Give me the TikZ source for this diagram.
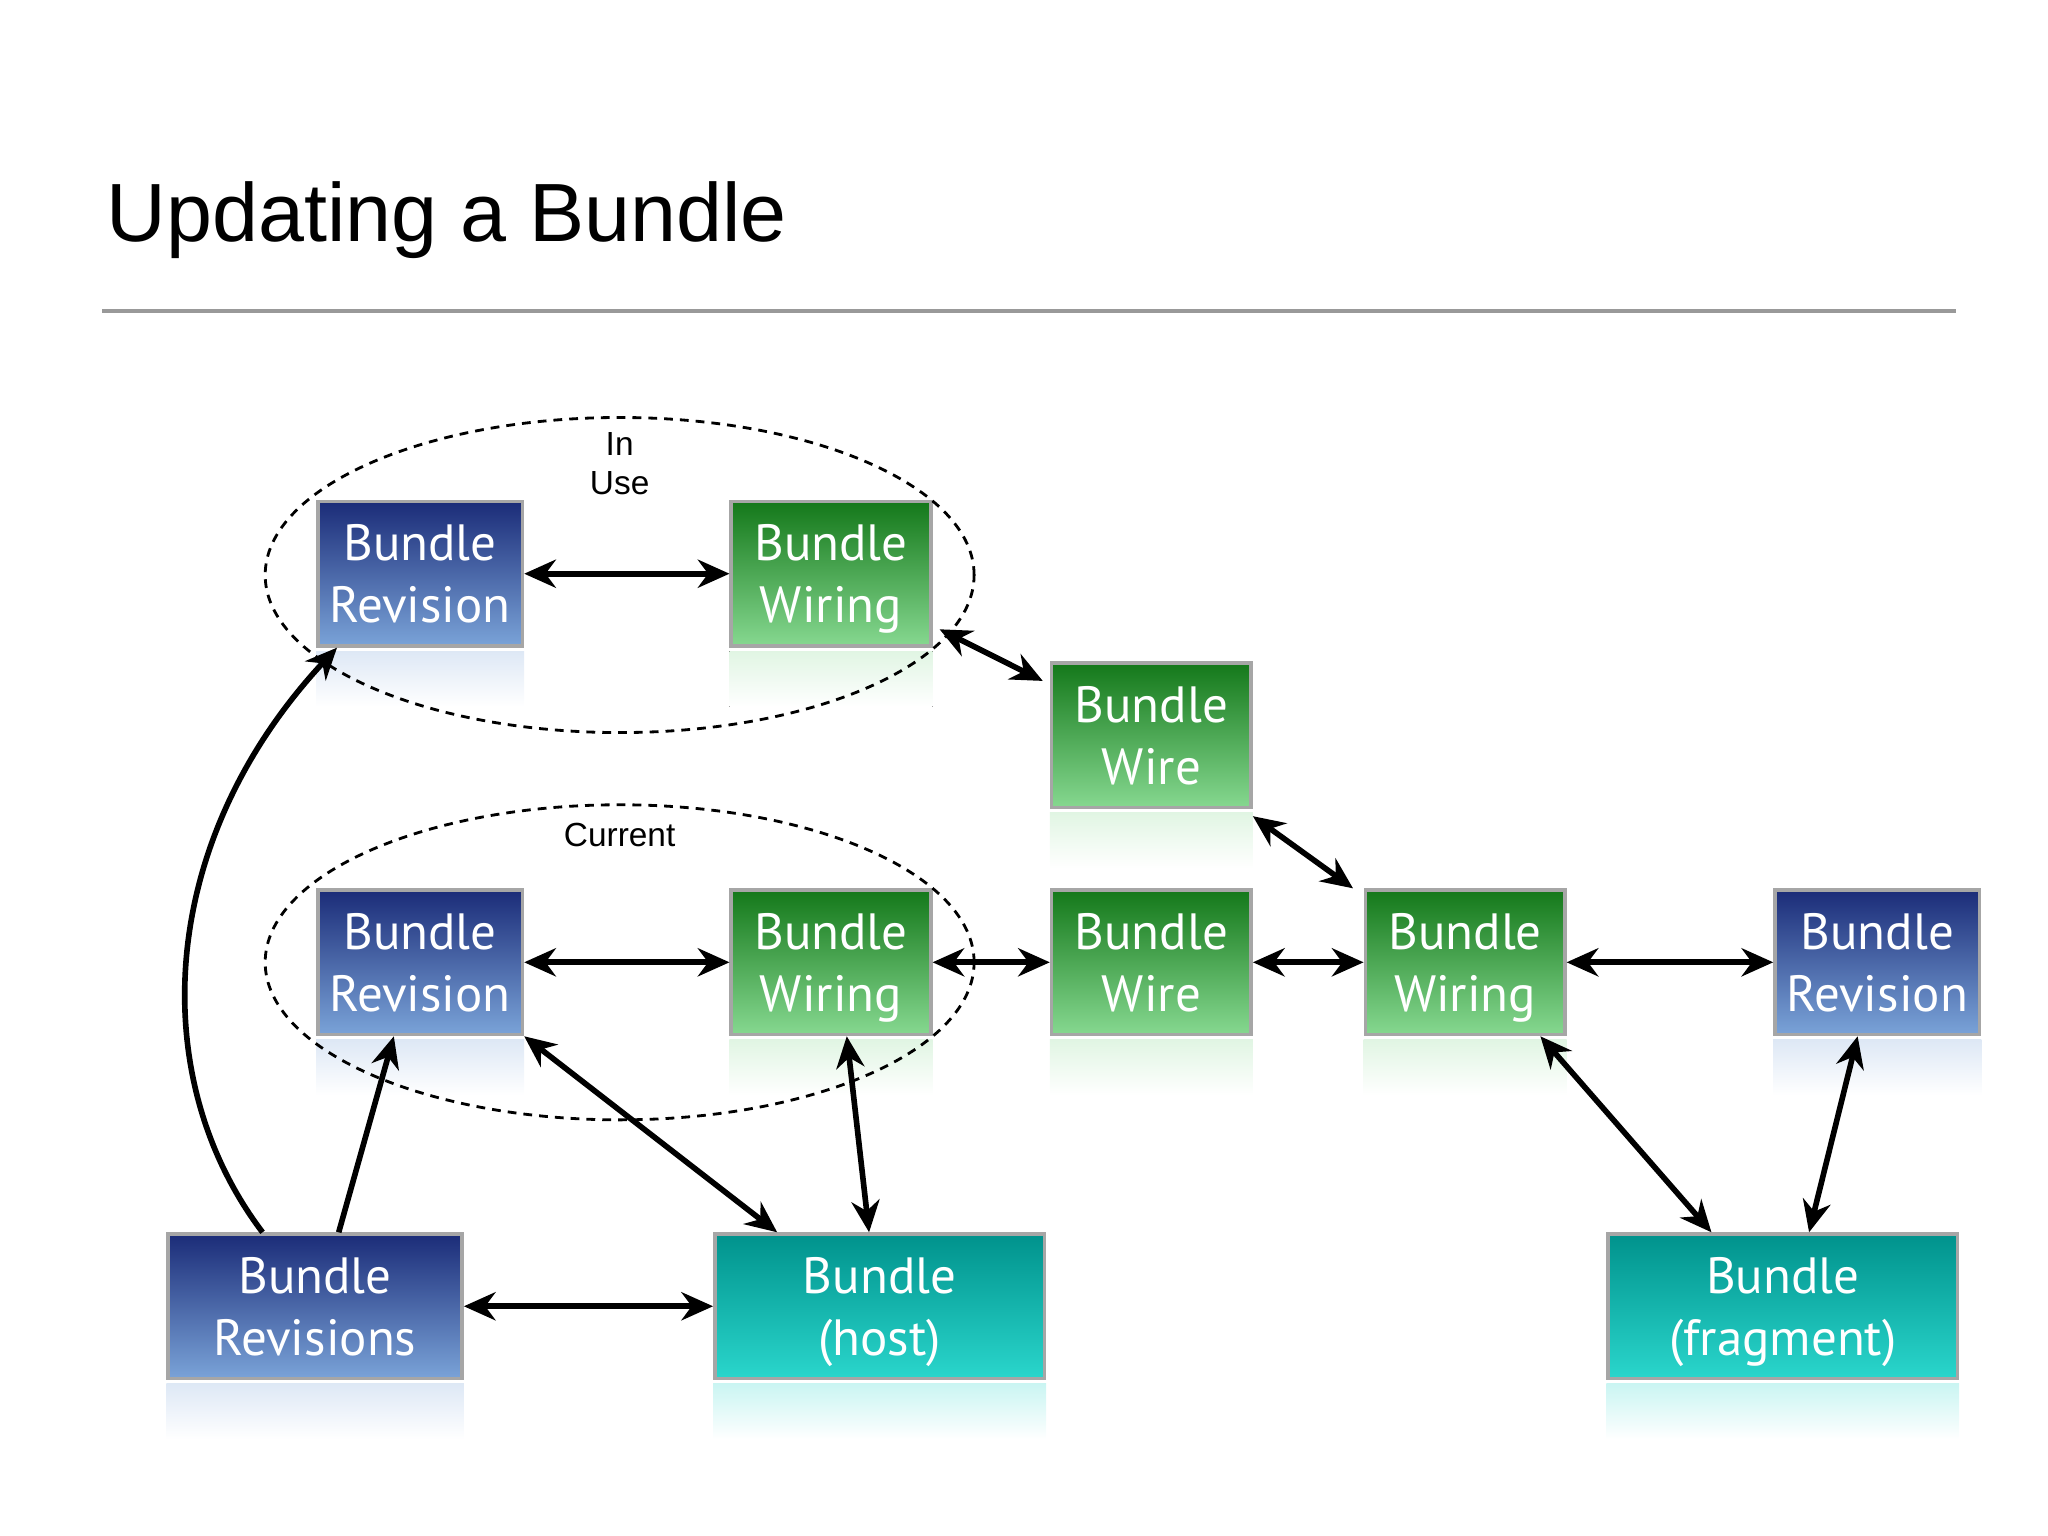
\documentclass[tikz,border=0pt]{standalone}
\usepackage{fontspec}
\setmainfont{PT Sans}
\newfontfamily\hel{Liberation Sans}
\usetikzlibrary{arrows.meta,shapes.geometric}
\definecolor{bTop}{HTML}{1B2C78}\definecolor{bBot}{HTML}{7AA3D8}
\definecolor{gTop}{HTML}{14781A}\definecolor{gBot}{HTML}{86D890}
\definecolor{tTop}{HTML}{00928C}\definecolor{tBot}{HTML}{2AD6CC}
\newlength\unitx \setlength\unitx{0.013128cm}
\tikzset{
 box/.style={draw=gray!70,line width=1pt,minimum width=152\unitx,minimum height=110\unitx,
   text=white,font=\fontsize{14.5}{17.5}\selectfont,align=center,
   text depth=0pt},
 blue/.style={box,top color=bTop,bottom color=bBot},
 green/.style={box,top color=gTop,bottom color=gBot},
 teal/.style={box,top color=tTop,bottom color=tBot},
 conn/.style={line width=1.6pt,{Stealth[length=9pt,width=8pt]}-{Stealth[length=9pt,width=8pt]}},
 conn1/.style={line width=1.6pt,-{Stealth[length=9pt,width=8pt]}},
 ell/.style={dashed,dash pattern=on 2.5pt off 2pt,line width=0.8pt},
 small/.style={font=\hel\fontsize{9.5}{11}\selectfont}
}
\newcommand{\refl}[2]{\fill[top color=#2!25,bottom color=white] ([yshift=-1pt]#1.south west) rectangle ([yshift=-45\unitx]#1.south east);}
\begin{document}
\begin{tikzpicture}[x=0.013128cm,y=-0.013128cm]
\useasboundingbox (0,0) rectangle (1560,1170);
\node[anchor=west,font=\hel\fontsize{23.5}{26}\selectfont] (title) at (72,168) {Updating a Bundle};
\coordinate (l1) at (78,237); \coordinate (l2) at (1490,237);
\draw[gray!80,line width=1.2pt] (l1)--(l2);

\node[blue] (BR1) at (320,437) {Bundle\\Revision};
\node[green] (BW1) at (633,437) {Bundle\\Wiring};
\node[green] (W1) at (877,560) {Bundle\\Wire};
\node[blue] (BR2) at (320,733) {Bundle\\Revision};
\node[green] (BW2) at (633,733) {Bundle\\Wiring};
\node[green] (W2) at (877,733) {Bundle\\Wire};
\node[green] (BW3) at (1116,733) {Bundle\\Wiring};
\node[blue] (BR3) at (1430,733) {Bundle\\Revision};
\node[blue,minimum width=224\unitx] (BRs) at (240,995) {Bundle\\Revisions};
\node[teal,minimum width=251\unitx] (H) at (670,995) {Bundle\\(host)};
\node[teal,minimum width=266\unitx] (F) at (1358,995) {Bundle\\(fragment)};
\refl{BR1}{bBot}\refl{BW1}{gBot}\refl{W1}{gBot}\refl{BR2}{bBot}\refl{BW2}{gBot}
\refl{W2}{gBot}\refl{BW3}{gBot}\refl{BR3}{bBot}\refl{BRs}{bBot}\refl{H}{tBot}\refl{F}{tBot}

\node[ell,draw,ellipse,minimum width=540\unitx,minimum height=240\unitx] (E1) at (472,438) {};
\node[ell,draw,ellipse,minimum width=540\unitx,minimum height=240\unitx] (E2) at (472,733) {};
\node[small,align=center] (iu) at (472,353) {In\\Use};
\node[small] (cu) at (472,636) {Current};

\draw[conn] (BR1.east) -- (BW1.west);
\draw[conn] ([xshift=2pt,yshift=14\unitx]BW1.south east) -- ([xshift=-2pt,yshift=-15\unitx]W1.north west);
\draw[conn] ([yshift=-2pt]W1.south east) -- ([xshift=-3pt]BW3.north west);
\draw[conn] (BR2.east) -- (BW2.west);
\draw[conn] (BW2.east) -- (W2.west);
\draw[conn] (W2.east) -- (BW3.west);
\draw[conn] (BW3.east) -- (BR3.west);
\draw[conn] (BRs.east) -- (H.west);
\draw[conn1] ([xshift=18\unitx]BRs.north) -- ([xshift=-20\unitx]BR2.south);
\draw[conn] (BR2.south east) -- ([xshift=-78\unitx]H.north);
\draw[conn] ([xshift=12\unitx]BW2.south) -- ([xshift=-8\unitx]H.north);
\draw[conn] ([xshift=-20\unitx]BW3.south east) -- ([xshift=80\unitx]F.north west);
\draw[conn] ([xshift=-15\unitx]BR3.south) -- ([xshift=20\unitx]F.north);
\draw[conn1] ([xshift=-40\unitx]BRs.north) .. controls (110,820) and (120,640) .. ([xshift=16\unitx]BR1.south west);
\end{tikzpicture}
\end{document}
